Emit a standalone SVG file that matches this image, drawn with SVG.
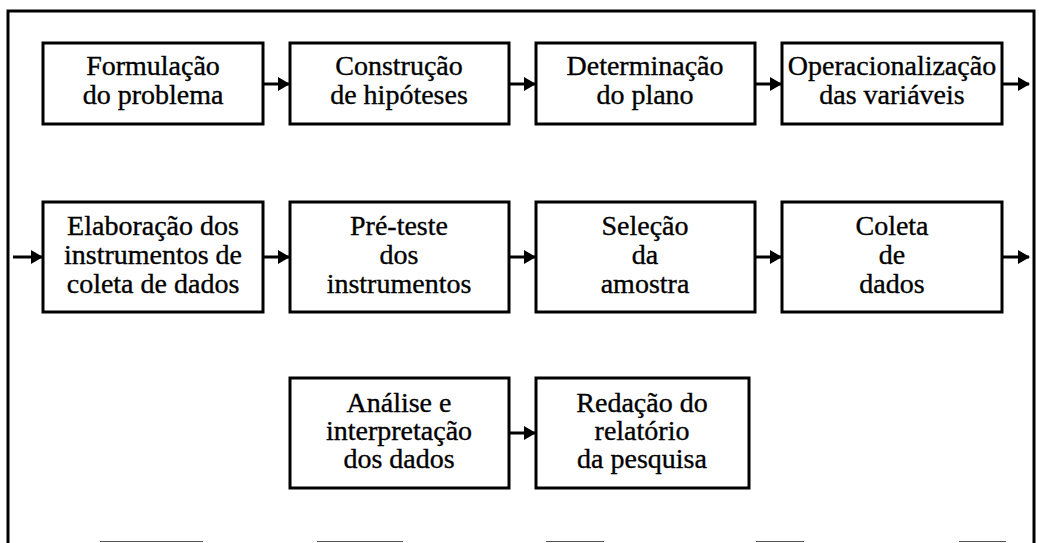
<svg xmlns="http://www.w3.org/2000/svg" width="1039" height="543" viewBox="0 0 1039 543">
<style>
.box{fill:#fff;stroke:#000;stroke-width:3}
.t{font-family:"Liberation Serif","Times New Roman",serif;font-size:28px;fill:#000;stroke:#000;stroke-width:0.35;text-anchor:middle}
.c{stroke:#000;stroke-width:3;fill:none}
.frame{stroke:#000;stroke-width:3;fill:none}
.bot{stroke:#555;stroke-width:1.2}
</style>
<defs>
<marker id="ah" markerWidth="12" markerHeight="14" refX="11" refY="7" orient="auto" markerUnits="userSpaceOnUse">
<path d="M0,0 L12,7 L0,14 Z" fill="#000"/>
</marker>
</defs>
<rect width="1039" height="543" fill="#fff"/>
<g id="frame">
<path class="frame" d="M8,543 L8,11 L1034,11 L1034,543"/>
<line class="bot" x1="100" y1="541.5" x2="203" y2="541.5"/>
<line class="bot" x1="317" y1="541.5" x2="403" y2="541.5"/>
<line class="bot" x1="546" y1="541.5" x2="604" y2="541.5"/>
<line class="bot" x1="756" y1="541.5" x2="804" y2="541.5"/>
<line class="bot" x1="959" y1="541.5" x2="1006" y2="541.5"/>
</g>
<g id="connectors">
<line class="c" x1="263" y1="84" x2="289" y2="84" marker-end="url(#ah)"/>
<line class="c" x1="509" y1="84" x2="535" y2="84" marker-end="url(#ah)"/>
<line class="c" x1="755" y1="84" x2="781" y2="84" marker-end="url(#ah)"/>
<line class="c" x1="1002" y1="84" x2="1029" y2="84" marker-end="url(#ah)"/>
<line class="c" x1="13" y1="257" x2="42" y2="257" marker-end="url(#ah)"/>
<line class="c" x1="263" y1="257" x2="289" y2="257" marker-end="url(#ah)"/>
<line class="c" x1="509" y1="257" x2="535" y2="257" marker-end="url(#ah)"/>
<line class="c" x1="755" y1="257" x2="781" y2="257" marker-end="url(#ah)"/>
<line class="c" x1="1002" y1="257" x2="1029" y2="257" marker-end="url(#ah)"/>
<line class="c" x1="509" y1="433" x2="535" y2="433" marker-end="url(#ah)"/>
</g>
<g id="n1"><rect class="box" x="43" y="43" width="220" height="81"/>
<text class="t" x="153" y="75">Formulação</text><text class="t" x="153" y="104">do problema</text></g>
<g id="n2"><rect class="box" x="290" y="43" width="219" height="81"/>
<text class="t" x="399" y="75">Construção</text><text class="t" x="399" y="104">de hipóteses</text></g>
<g id="n3"><rect class="box" x="536" y="43" width="219" height="81"/>
<text class="t" x="645" y="75">Determinação</text><text class="t" x="645" y="104">do plano</text></g>
<g id="n4"><rect class="box" x="782" y="43" width="220" height="81"/>
<text class="t" x="892" y="75">Operacionalização</text><text class="t" x="892" y="104">das variáveis</text></g>
<g id="n5"><rect class="box" x="43" y="202" width="220" height="110"/>
<text class="t" x="153" y="235">Elaboração dos</text><text class="t" x="153" y="264">instrumentos de</text><text class="t" x="153" y="293">coleta de dados</text></g>
<g id="n6"><rect class="box" x="290" y="202" width="219" height="110"/>
<text class="t" x="399" y="235">Pré-teste</text><text class="t" x="399" y="264">dos</text><text class="t" x="399" y="293">instrumentos</text></g>
<g id="n7"><rect class="box" x="536" y="202" width="219" height="110"/>
<text class="t" x="645" y="235">Seleção</text><text class="t" x="645" y="264">da</text><text class="t" x="645" y="293">amostra</text></g>
<g id="n8"><rect class="box" x="782" y="202" width="220" height="110"/>
<text class="t" x="892" y="235">Coleta</text><text class="t" x="892" y="264">de</text><text class="t" x="892" y="293">dados</text></g>
<g id="n9"><rect class="box" x="290" y="378" width="219" height="110"/>
<text class="t" x="399" y="412">Análise e</text><text class="t" x="399" y="440">interpretação</text><text class="t" x="399" y="468">dos dados</text></g>
<g id="n10"><rect class="box" x="536" y="378" width="213" height="110"/>
<text class="t" x="642" y="412">Redação do</text><text class="t" x="642" y="440">relatório</text><text class="t" x="642" y="468">da pesquisa</text></g>
</svg>
